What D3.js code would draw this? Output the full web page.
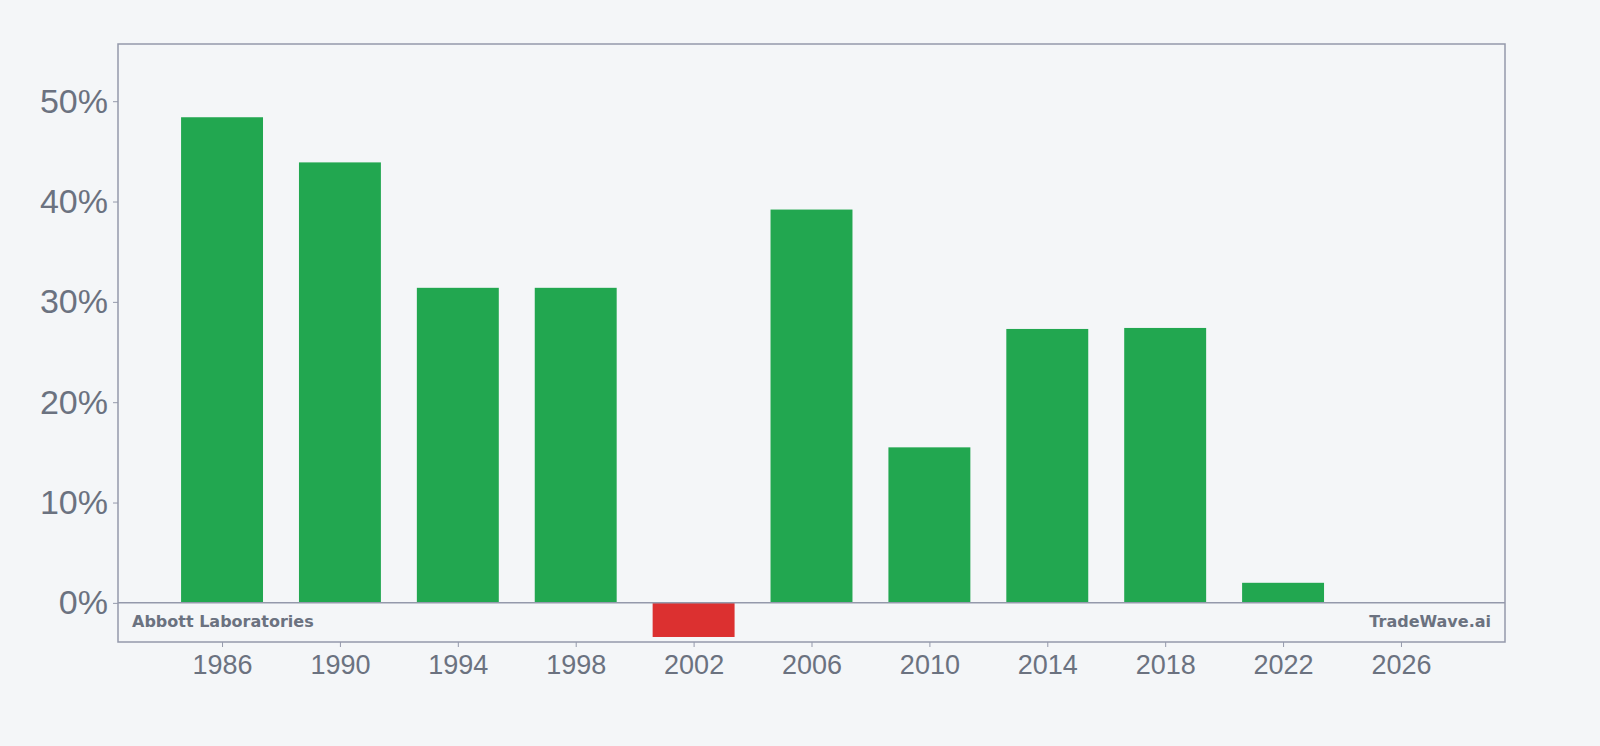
<!DOCTYPE html>
<html><head><meta charset="utf-8">
<script src="https://cdn.jsdelivr.net/npm/d3@7"></script>
<style>body{margin:0;background:#f4f6f8;}svg{display:block;font-family:"DejaVu Sans",sans-serif;}</style>
</head><body><svg id="c" width="1600" height="746"></svg>
<script>
const years=[1986,1990,1994,1998,2002,2006,2010,2014,2018,2022];
const values=[48.4,43.9,31.4,31.4,-3.4,39.2,15.5,27.3,27.4,2.0];
const yTicks=[0,10,20,30,40,50];
const xTicks=[1986,1990,1994,1998,2002,2006,2010,2014,2018,2022,2026];
const svg=d3.select("#c");
const L=118,R=1505,T=44,B=642;
const x=d3.scaleLinear().domain([1982.47,2029.53]).range([L,R]);
const y=d3.scaleLinear().domain([-3.9,55.7]).range([B,T]);
const bw=x(1986+1.39)-x(1986-1.39);
svg.append("g").selectAll("rect").data(years).join("rect")
 .attr("x",d=>x(d)-bw/2).attr("width",bw)
 .attr("y",(d,i)=>y(Math.max(0,values[i])))
 .attr("height",(d,i)=>Math.abs(y(values[i])-y(0)))
 .attr("fill",(d,i)=>values[i]<0?"#dc3030":"#22a750");
svg.append("line").attr("x1",L).attr("x2",R).attr("y1",y(0)).attr("y2",y(0)).attr("stroke","#9499ab").attr("stroke-width",1.5);
svg.append("rect").attr("x",L).attr("y",T).attr("width",R-L).attr("height",B-T).attr("fill","none").attr("stroke","#9499ab").attr("stroke-width",1.5);
const ya=svg.append("g").attr("transform",`translate(${L},0)`).call(d3.axisLeft(y).tickValues(yTicks).tickFormat(d=>d+"%").tickSize(5));
ya.select(".domain").remove();
ya.selectAll("line").attr("stroke","#9499ab");
ya.selectAll("text").attr("fill","#6b7280").attr("font-size",34).attr("dx",-2);
const xa=svg.append("g").attr("transform",`translate(0,${B})`).call(d3.axisBottom(x).tickValues(xTicks).tickFormat(d3.format("d")).tickSize(5));
xa.select(".domain").remove();
xa.selectAll("line").attr("stroke","#9499ab");
xa.selectAll("text").attr("fill","#6b7280").attr("font-size",27).attr("dy","0.9em");
svg.append("text").attr("x",132).attr("y",627).attr("fill","#6b7280").attr("font-size",16).attr("font-weight","bold").text("Abbott Laboratories");
svg.append("text").attr("x",1491).attr("y",627).attr("text-anchor","end").attr("fill","#6b7280").attr("font-size",16).attr("font-weight","bold").text("TradeWave.ai");
</script></body></html>
